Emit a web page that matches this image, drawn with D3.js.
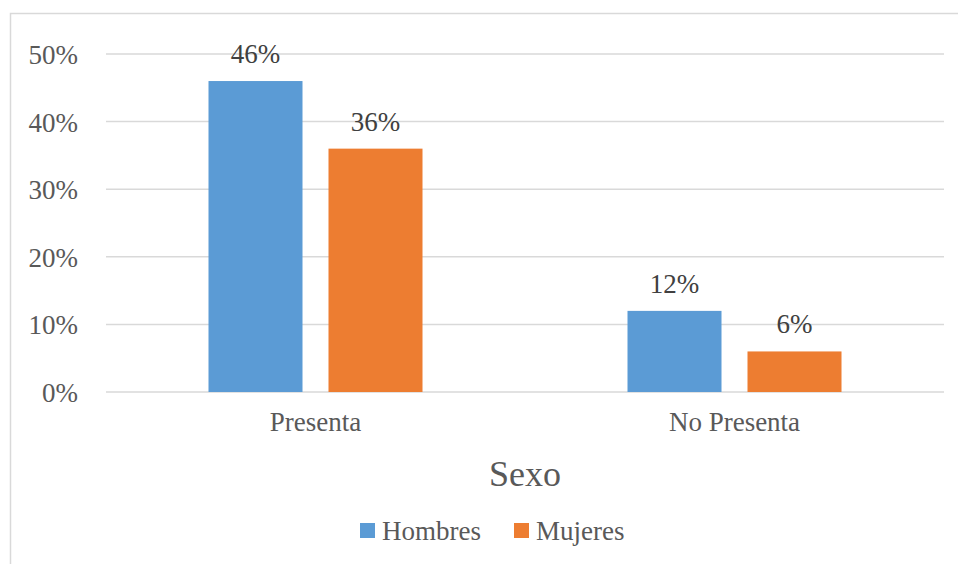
<!DOCTYPE html>
<html>
<head>
<meta charset="utf-8">
<script src="https://cdn.jsdelivr.net/npm/d3@7"></script>
<style>
  body { margin: 0; background: #fff; }
  svg text { font-family: "Liberation Serif", "Times New Roman", serif; }
</style>
</head>
<body>
<div id="chart"></div>
<script>
// data
var categories = ["Presenta", "No Presenta"];
var seriesNames = ["Hombres", "Mujeres"];
var hombres = [0.46, 0.12];
var mujeres = [0.36, 0.06];
var yTicks = [0, 0.1, 0.2, 0.3, 0.4, 0.5];
var colors = ["#5b9bd5", "#ed7d31"];

var W = 958, H = 564;
var margin = {left: 106, right: 14, top: 54, bottom: 172};
var serif = "Liberation Serif";

var svg = d3.select("#chart").append("svg")
    .attr("width", W).attr("height", H);

// chart frame
svg.append("rect")
    .attr("x", 10.5).attr("y", 13.5)
    .attr("width", W + 10).attr("height", H + 10)
    .attr("fill", "none").attr("stroke", "#d9d9d9").attr("stroke-width", 1.5);

var x0 = d3.scaleBand()
    .domain(categories)
    .range([margin.left, W - margin.right])
    .paddingInner(0).paddingOuter(0);

var x1 = d3.scaleBand()
    .domain(seriesNames)
    .range([102.5, x0.bandwidth() - 102.5])
    .paddingInner(26 / 214 * 2 / (1 + 26 / 214))
    .paddingOuter(0);

var y = d3.scaleLinear()
    .domain([0, 0.5])
    .range([H - margin.bottom, margin.top]);

// gridlines
svg.append("g")
  .selectAll("line")
  .data(yTicks)
  .join("line")
    .attr("x1", margin.left).attr("x2", W - margin.right)
    .attr("y1", d => y(d)).attr("y2", d => y(d))
    .attr("stroke", "#d9d9d9").attr("stroke-width", 1.5);

// y axis labels
var yAxis = d3.axisLeft(y).tickValues(yTicks).tickFormat(d3.format(".0%")).tickSize(0).tickPadding(28);
var ya = svg.append("g").attr("transform", "translate(" + margin.left + ",0)").call(yAxis)
    .attr("font-family", serif);
ya.select(".domain").remove();
ya.selectAll("text")
    .style("font-family", serif).attr("font-size", 27)
    .attr("fill", "#595959").attr("dy", "0.35em");

// x axis labels
var xAxis = d3.axisBottom(x0).tickSize(0).tickPadding(20);
var xa = svg.append("g").attr("transform", "translate(0," + y(0) + ")").call(xAxis)
    .attr("font-family", serif);
xa.select(".domain").remove();
xa.selectAll("text")
    .style("font-family", serif).attr("font-size", 27)
    .attr("fill", "#595959");

// bars
var rows = categories.map(function(c, i) {
  return {cat: c, vals: [{s: seriesNames[0], v: hombres[i]}, {s: seriesNames[1], v: mujeres[i]}]};
});

var groups = svg.append("g").selectAll("g")
  .data(rows)
  .join("g")
    .attr("transform", d => "translate(" + x0(d.cat) + ",0)");

groups.selectAll("rect")
  .data(d => d.vals)
  .join("rect")
    .attr("x", d => x1(d.s))
    .attr("y", d => y(d.v))
    .attr("width", x1.bandwidth())
    .attr("height", d => y(0) - y(d.v))
    .attr("fill", (d, i) => colors[i]);

groups.selectAll("text")
  .data(d => d.vals)
  .join("text")
    .attr("x", d => x1(d.s) + x1.bandwidth() / 2)
    .attr("y", d => y(d.v) - 18)
    .attr("text-anchor", "middle")
    .style("font-family", serif)
    .attr("font-size", 27)
    .attr("fill", "#404040")
    .text(d => d3.format(".0%")(d.v));

// axis title
svg.append("text")
    .attr("x", (margin.left + W - margin.right) / 2)
    .attr("y", 486)
    .attr("text-anchor", "middle")
    .style("font-family", serif)
    .attr("font-size", 36)
    .attr("fill", "#595959")
    .text("Sexo");

// legend
var legendX = [360, 514];
var lg = svg.append("g").selectAll("g")
  .data(seriesNames)
  .join("g")
    .attr("transform", (d, i) => "translate(" + legendX[i] + ",523)");
lg.append("rect")
    .attr("width", 15).attr("height", 15)
    .attr("fill", (d, i) => colors[i]);
lg.append("text")
    .attr("x", 22).attr("y", 17)
    .style("font-family", serif)
    .attr("font-size", 27)
    .attr("fill", "#595959")
    .text(d => d);
</script>
</body>
</html>
